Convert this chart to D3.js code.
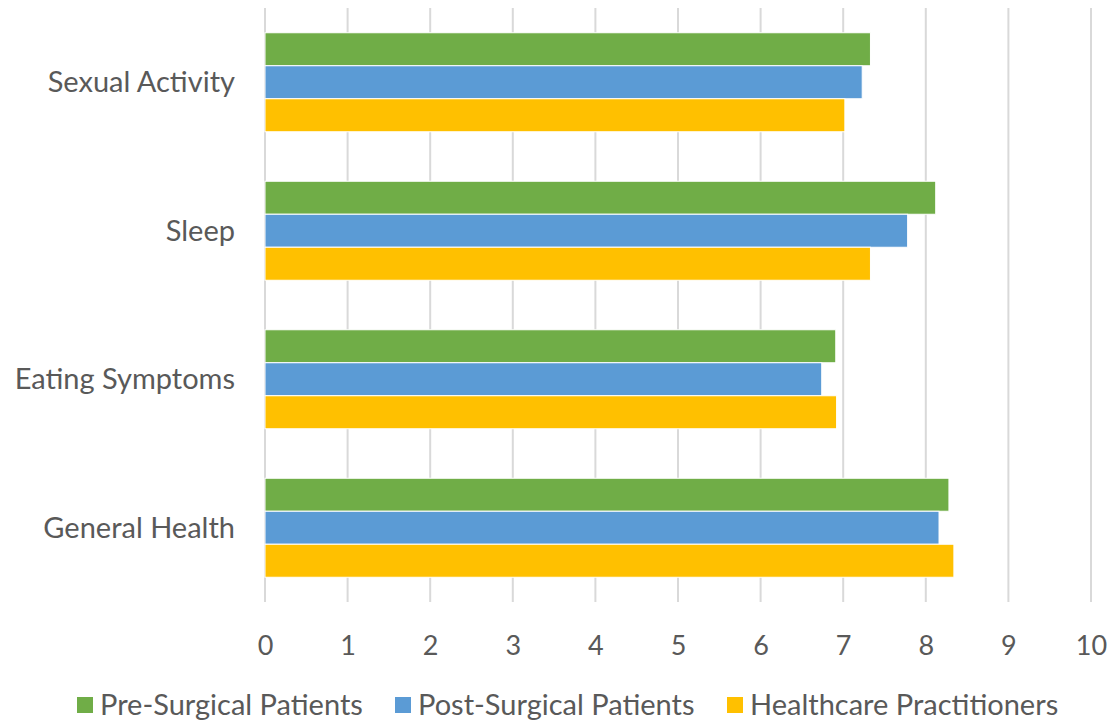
<!DOCTYPE html>
<html><head><meta charset="utf-8">
<script src="https://cdn.jsdelivr.net/npm/d3@7"></script>
<style>body{margin:0;background:#fff}svg{display:block}text{font-family:Lato,"Open Sans",sans-serif;fill:#595959}</style>
</head><body><svg id="c" width="1112" height="723"></svg>
<script>
const categories = ["Sexual Activity","Sleep","Eating Symptoms","General Health"];
const seriesNames = ["Pre-Surgical Patients","Post-Surgical Patients","Healthcare Practitioners"];
const preSurgical = [7.33, 8.12, 6.91, 8.28];
const postSurgical = [7.23, 7.78, 6.74, 8.16];
const practitioners = [7.02, 7.33, 6.92, 8.34];
const ticks = [0,1,2,3,4,5,6,7,8,9,10];
const colors = ["#70AD47","#5B9BD5","#FFC000"];

(function(){
const series = [preSurgical, postSurgical, practitioners];
const svg = d3.select("#c");
const pLeft = 265, pRight = 1091, pTop = 8, pBottom = 602;
const x = d3.scaleLinear().domain([0,10]).range([pLeft,pRight]);
const y = d3.scaleBand().domain(categories).range([pTop,pBottom]).paddingInner(1/3).paddingOuter(1/6);
const y1 = d3.scaleBand().domain(seriesNames).range([0,y.bandwidth()]);

svg.append("g").selectAll("line").data(ticks).join("line")
  .attr("x1",d=>x(d)).attr("x2",d=>x(d)).attr("y1",pTop).attr("y2",pBottom)
  .attr("stroke","#D9D9D9").attr("stroke-width",2);

const g = svg.append("g");
categories.forEach((c,i)=>{
  series.forEach((s,j)=>{
    g.append("rect").attr("x",x(0)).attr("y",y(c)+y1(seriesNames[j]))
      .attr("width",x(s[i])-x(0)).attr("height",y1.bandwidth())
      .attr("fill",colors[j]).attr("stroke","#fff").attr("stroke-width",1);
  });
});

const ax = d3.axisBottom(x).tickValues(ticks).tickSize(0).tickPadding(0).tickFormat(d3.format("d"));
const axG = svg.append("g").attr("transform",`translate(0,${pBottom})`).call(ax);
axG.select(".domain").remove();
axG.selectAll("text").attr("y",53).attr("dy",0).style("font-size","27px").attr("fill","#595959").style("font-family","Lato");

const ay = d3.axisLeft(y).tickSize(0).tickPadding(30);
const ayG = svg.append("g").attr("transform",`translate(${pLeft},0)`).call(ay);
ayG.select(".domain").remove();
ayG.selectAll("text").style("font-size","29px").attr("fill","#595959").style("font-family","Lato").attr("dy","0.35em");

const legendX = [77,395,727];
const lg = svg.append("g");
seriesNames.forEach((n,j)=>{
  lg.append("rect").attr("x",legendX[j]).attr("y",697).attr("width",16).attr("height",16).attr("fill",colors[j]);
  lg.append("text").attr("x",legendX[j]+23).attr("y",705).attr("dy","0.35em").style("font-size","29px").text(n);
});
})();
</script></body></html>
